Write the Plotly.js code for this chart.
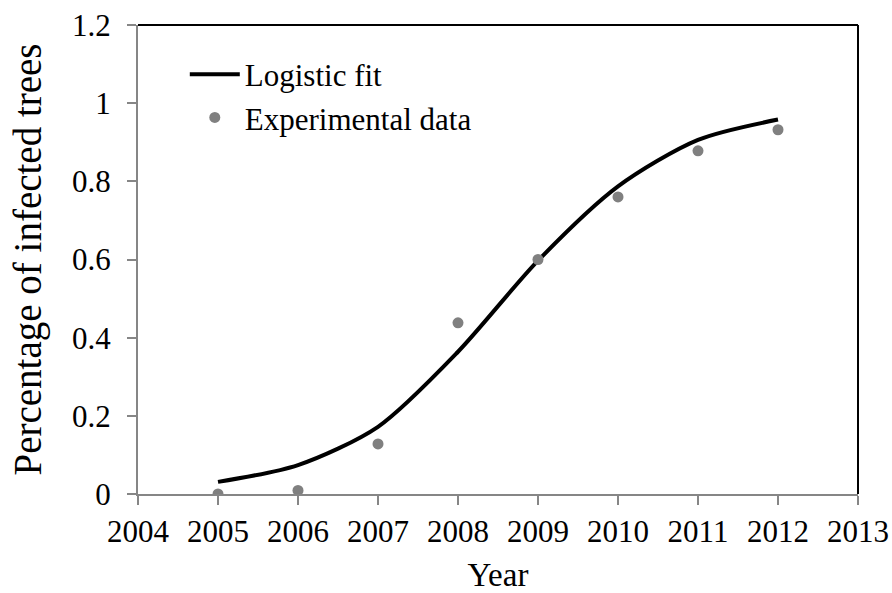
<!DOCTYPE html>
<html>
<head>
<meta charset="utf-8">
<script src="https://cdn.plot.ly/plotly-3.0.1.min.js"></script>
<style>html,body{margin:0;padding:0;background:#fff;}#chart{width:892px;height:593px;}</style>
</head>
<body>
<div id="chart"></div>
<script>
// Data
const fitYears = [2005, 2006, 2007, 2008, 2009, 2010, 2011, 2012];
const fitValues = [0.031, 0.074, 0.172, 0.364, 0.597, 0.787, 0.906, 0.958];
const expYears = [2005, 2006, 2007, 2008, 2009, 2010, 2011, 2012];
const expValues = [0.0, 0.009, 0.128, 0.438, 0.600, 0.760, 0.878, 0.932];
const xTicks = [2004, 2005, 2006, 2007, 2008, 2009, 2010, 2011, 2012, 2013];
const yTicks = [0, 0.2, 0.4, 0.6, 0.8, 1, 1.2];
const yTickText = ['0', '0.2', '0.4', '0.6', '0.8', '1', '1.2'];

const font = 'Liberation Serif, Times New Roman, serif';

const traces = [
  {
    x: fitYears, y: fitValues, name: 'Logistic fit', type: 'scatter', mode: 'lines',
    line: {color: '#000000', width: 4, shape: 'spline', smoothing: 0.8}
  },
  {
    x: expYears, y: expValues, name: 'Experimental data', type: 'scatter', mode: 'markers',
    marker: {color: '#808080', size: 11}
  }
];

const layout = {
  width: 892, height: 593,
  margin: {l: 138, r: 34, t: 25, b: 99},
  paper_bgcolor: '#ffffff', plot_bgcolor: '#ffffff',
  font: {family: font, color: '#000000', size: 31},
  showlegend: true,
  legend: {
    x: 0.065, y: 0.952, xanchor: 'left', yanchor: 'top',
    bgcolor: 'rgba(0,0,0,0)', borderwidth: 0,
    itemwidth: 50,
    font: {family: font, size: 31, color: '#000'},
    tracegroupgap: 0
  },
  xaxis: {
    range: [2004, 2013], tickvals: xTicks, ticktext: xTicks.map(String),
    showgrid: false, zeroline: false,
    showline: true, linecolor: '#868686', linewidth: 2,
    ticks: 'outside', ticklen: 9, tickcolor: '#868686', tickwidth: 2,
    tickfont: {family: font, size: 31, color: '#000'},
    title: {text: 'Year', font: {family: font, size: 33, color: '#000'}, standoff: 18}
  },
  yaxis: {
    range: [0, 1.2], tickvals: yTicks, ticktext: yTickText,
    showgrid: false, zeroline: false,
    showline: true, linecolor: '#868686', linewidth: 2,
    ticks: 'outside', ticklen: 9, tickcolor: '#868686', tickwidth: 2,
    ticklabelstandoff: 10,
    tickfont: {family: font, size: 31, color: '#000'},
    title: {text: 'Percentage of infected trees', font: {family: font, size: 39, color: '#000'}, standoff: 18}
  },
  shapes: [
    {type: 'line', xref: 'paper', yref: 'paper', x0: 0, x1: 1, y0: 1, y1: 1, line: {color: '#000', width: 2}},
    {type: 'line', xref: 'paper', yref: 'paper', x0: 1, x1: 1, y0: 0, y1: 1, line: {color: '#000', width: 2}}
  ]
};

Plotly.newPlot('chart', traces, layout, {displayModeBar: false, staticPlot: true});
</script>
</body>
</html>
